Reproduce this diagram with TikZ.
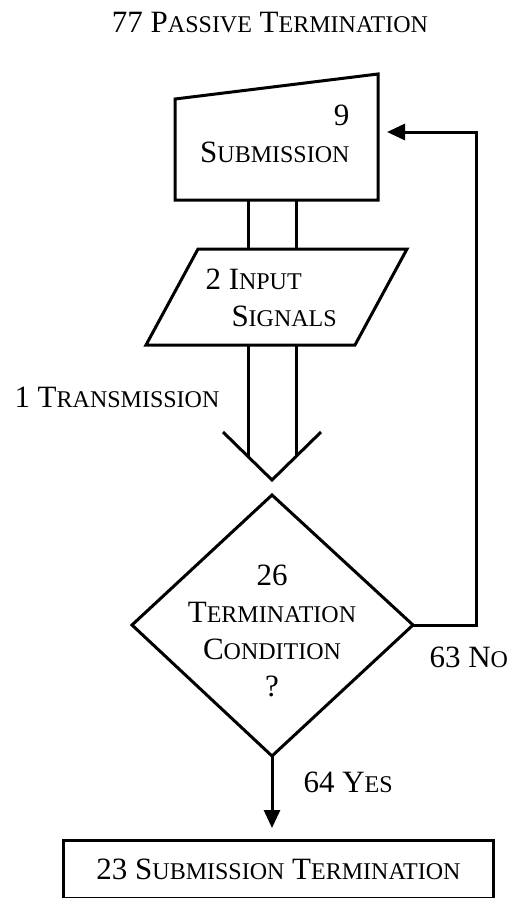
\documentclass[tikz,border=0pt]{standalone}
\usepackage{fontspec}
\setmainfont{Liberation Serif}
\usetikzlibrary{arrows.meta,positioning}
\newcommand\sm[1]{{\fontsize{24}{37}\selectfont #1}}
\tikzset{
  lbl/.style={inner sep=0pt,font=\fontsize{31}{37}\selectfont,align=center},
  ln/.style={line width=3pt,line join=miter},
  arr/.style={-{Triangle[length=18pt,width=16pt]}},
}
\begin{document}
\begin{tikzpicture}[x=1pt,y=-1pt,ln]
\useasboundingbox (0,0) rectangle (513,898);
\node[lbl](T)at(270,23){77 P\sm{ASSIVE} T\sm{ERMINATION}};
% submission
\coordinate(S1)at(175,99);\coordinate(S2)at(378,74);
\coordinate(S3)at(378,200);\coordinate(S4)at(175,200);
\draw(S1)--(S2)--(S3)--(S4)--cycle;
\node[lbl,align=right,anchor=east](S)at(351,134){9\\S\sm{UBMISSION}};
% input signals
\coordinate(P1)at(198,249);\coordinate(P2)at(407,249);
\coordinate(P3)at(355,345);\coordinate(P4)at(146,345);
\draw(P1)--(P2)--(P3)--(P4)--cycle;
\node[lbl,align=left,anchor=west](P)at(204,298){2 I\sm{NPUT}\\\hspace*{26pt}S\sm{IGNALS}};
\coordinate(L)at(248,0);\coordinate(R)at(296,0);
\draw(L|-S4)--(L|-P1);
\draw(R|-S4)--(R|-P1);
% transmission
\coordinate(V1)at(223,432);\coordinate(V2)at(272,480);\coordinate(V3)at(321,432);
\draw(V1)--(V2)--(V3);
\draw(L|-P4)--++(0,111.5);
\draw(R|-P4)--++(0,111.5);
\node[lbl,anchor=west](Tr)at(13,397){1 T\sm{RANSMISSION}};
% termination condition
\coordinate(D1)at(272,495);\coordinate(D2)at(413,625);
\coordinate(D3)at(272,756);\coordinate(D4)at(132,625);
\draw(D1)--(D2)--(D3)--(D4)--cycle;
\node[lbl](D)at(272,631){26\\T\sm{ERMINATION}\\C\sm{ONDITION}\\?};
\coordinate(Nc)at(476,132);\coordinate(Sin)at(387,132);
\draw[arr](D2)-|(Nc)--(Sin);
\node[lbl,anchor=west](No)at(428,657){63 N\sm{O}};
% end
\node[lbl,draw,anchor=north east,minimum height=58pt,inner xsep=33pt](E)at(495,839){23 S\sm{UBMISSION} T\sm{ERMINATION}};
\coordinate(Y)at(272,828);
\draw[arr](D3)--(Y);
\node[lbl,anchor=west](Ye)at(302,782){64 Y\sm{ES}};
\end{tikzpicture}
\end{document}
